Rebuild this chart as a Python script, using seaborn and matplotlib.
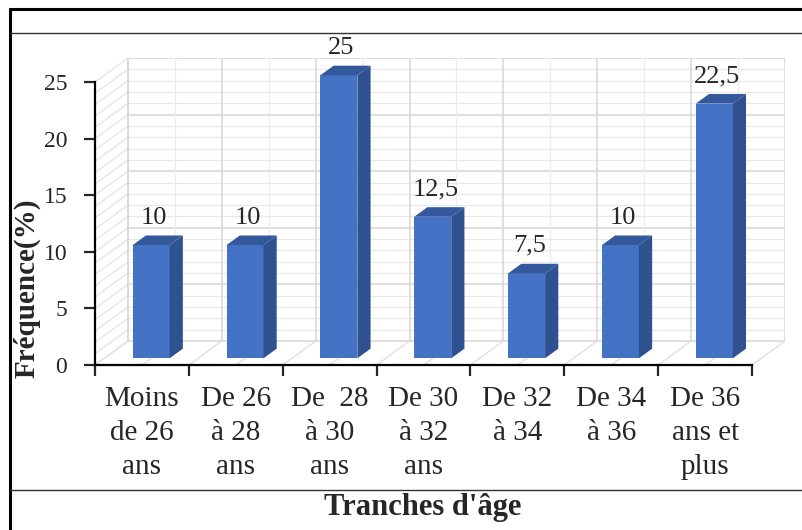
import numpy as np
import pandas as pd
import seaborn as sns
import matplotlib.pyplot as plt
from matplotlib.patches import Polygon
from matplotlib.lines import Line2D

categories = ["Moins\nde 26\nans", "De 26\nà 28\nans", "De  28\nà 30\nans", "De 30\nà 32\nans",
              "De 32\nà 34", "De 34\nà 36", "De 36\nans et\nplus"]
values = [10, 10, 25, 12.5, 7.5, 10, 22.5]
value_labels = ["10", "10", "25", "12,5", "7,5", "10", "22,5"]

sns.set_style("white")
plt.rcParams['font.family'] = ['Liberation Serif', 'DejaVu Serif']

df = pd.DataFrame({"cat": categories, "val": values})

fig = plt.figure(figsize=(8.02, 5.30), dpi=100)
W, H = 802, 530
# axes in pixel terms: front x axis 95..752, back wall goes to 785; y 0 at 365, top of back wall 58
DX = 33 / 93.86      # depth offset in category units
DY = 24 / 11.32      # depth offset in value units
ax = fig.add_axes([95 / W, (H - 365) / H, (785 - 95) / W, (365 - 58) / H])
n = len(categories)
ax.set_xlim(-0.5, n - 0.5 + DX)
ax.set_ylim(0, 25 + DY)

grid_c = "#d9d9d9"
# back wall grid
for y in np.arange(0, 26, 1):
    major = (y % 5 == 0)
    ax.plot([-0.5 + DX, n - 0.5 + DX], [y + DY, y + DY], color=grid_c if major else "#e8e8e8",
            lw=1.2 if major else 0.9, zorder=0)
    # left side wall
    ax.plot([-0.5, -0.5 + DX], [y, y + DY], color="#e3e3e3", lw=0.9, zorder=0)
for x in np.arange(-0.5, n, 0.5):
    major = (x % 1 == 0.5)
    ax.plot([x + DX, x + DX], [DY, 25 + DY], color=grid_c if major else "#ececec",
            lw=1.2 if major else 0.9, zorder=0)
    # floor
    ax.plot([x, x + DX], [0, DY], color="#e0e0e0", lw=1.0, zorder=0)
ax.plot([-0.5 + DX, -0.5 + DX], [DY, 25 + DY], color=grid_c, lw=1.2, zorder=0)

# front faces of bars
sns.barplot(data=df, x="cat", y="val", color="#4472C4", width=0.394, saturation=1,
            ax=ax, zorder=3, edgecolor="none")
ax.set_xlim(-0.5, n - 0.5 + DX)
ax.set_ylim(0, 25 + DY)

f0, f1 = 0.28, 0.68
ox, oy = DX * f0, DY * f0
bx, by = DX * (f1 - f0), DY * (f1 - f0)
for p, lab in zip(ax.patches, value_labels):
    x0 = p.get_x() + ox
    w = p.get_width()
    h = p.get_height()
    p.set_x(x0)
    p.set_y(oy)
    top = oy + h
    side = Polygon([(x0 + w, oy), (x0 + w + bx, oy + by), (x0 + w + bx, top + by), (x0 + w, top)],
                   closed=True, facecolor="#2F5190", edgecolor="none", zorder=3)
    cap = Polygon([(x0, top), (x0 + bx, top + by), (x0 + w + bx, top + by), (x0 + w, top)],
                  closed=True, facecolor="#34589C", edgecolor="none", zorder=3)
    ax.add_patch(side)
    ax.add_patch(cap)
    ax.annotate(lab, (x0 + w / 2 + bx * 0.2, top + by), xytext=(0, 5), textcoords="offset points",
                ha="center", va="bottom", fontsize=19, clip_on=False, zorder=4)

# axes styling
for s in ["top", "right"]:
    ax.spines[s].set_visible(False)
ax.spines["left"].set_bounds(0, 25)
ax.spines["bottom"].set_bounds(-0.5, n - 0.5)
for s in ["left", "bottom"]:
    ax.spines[s].set_color("black")
    ax.spines[s].set_linewidth(1.6)
ax.set_yticks(range(0, 26, 5))
ax.tick_params(axis="y", which="major", direction="out", length=8, width=1.6, labelsize=17, pad=12,
               left=True)
ax.set_xticks(np.arange(-0.5, n, 1))
ax.set_xticklabels([])
ax.set_xticks(np.arange(n), minor=True)
ax.set_xticklabels(categories, minor=True, fontsize=21, linespacing=1.4)
ax.tick_params(axis="x", which="major", direction="out", length=8, width=1.6, bottom=True)
ax.tick_params(axis="x", which="minor", length=0, pad=15)
ax.set_xlabel("")
ax.set_ylabel("")

fig.text(27 / W, 1 - 288 / H, "Fréquence(%)", rotation=90, ha="center", va="center",
         fontsize=21, fontweight="bold")
fig.text(423 / W, 1 - 507 / H, "Tranches d'âge", ha="center", va="center",
         fontsize=22, fontweight="bold")

# frame lines
fig.add_artist(Line2D([10 / W, 1], [1 - 9 / H, 1 - 9 / H], color="black", lw=2.2))
fig.add_artist(Line2D([10 / W, 10 / W], [0, 1 - 9 / H], color="black", lw=2.2))
fig.add_artist(Line2D([10 / W, 1], [1 - 33 / H, 1 - 33 / H], color="#333333", lw=1.0))
fig.add_artist(Line2D([10 / W, 1], [1 - 490 / H, 1 - 490 / H], color="#333333", lw=1.0))

fig.savefig("out.png", dpi=100)
